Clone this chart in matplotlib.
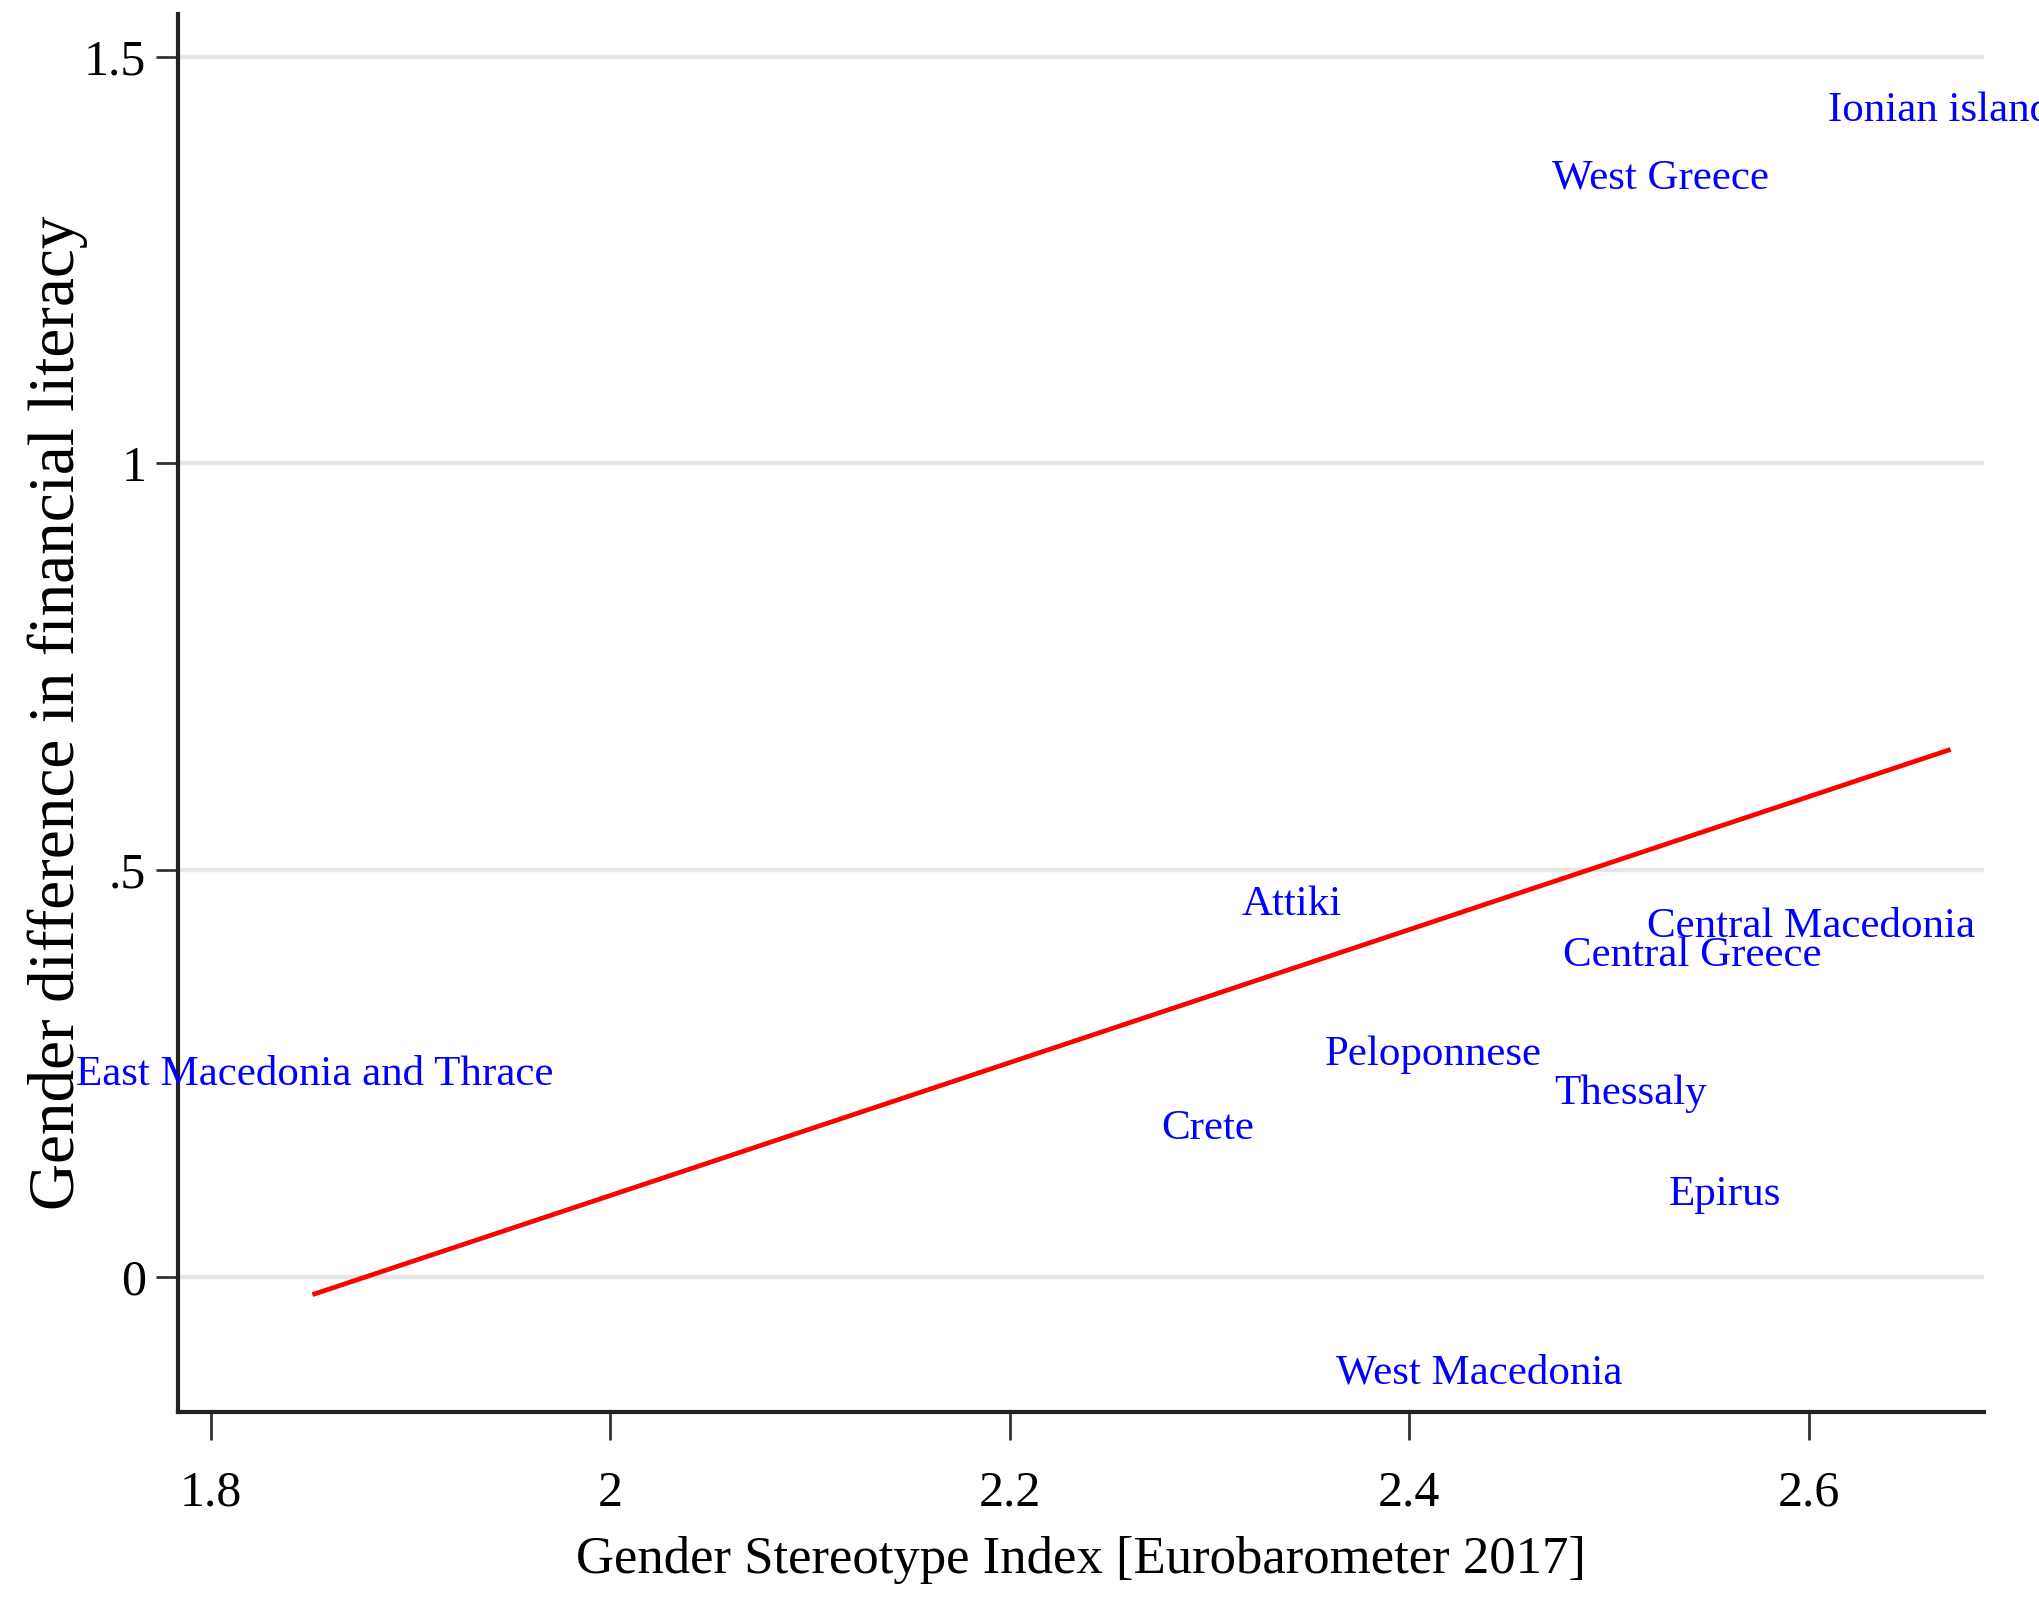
import numpy as np
import matplotlib.pyplot as plt

plt.rcParams["font.family"] = ["Liberation Serif", "DejaVu Serif"]

# regional values: stereotype index vs. gender gap in financial literacy
regions = [
    "East Macedonia and Thrace", "Crete", "Attiki", "Peloponnese",
    "West Macedonia", "West Greece", "Thessaly", "Central Greece",
    "Central Macedonia", "Epirus", "Ionian islands",
]
stereotype = [1.852, 2.299, 2.341, 2.412, 2.435, 2.526, 2.511, 2.542, 2.601, 2.558, 2.670]
fin_gap = [0.249, 0.182, 0.457, 0.273, -0.118, 1.350, 0.225, 0.395, 0.431, 0.101, 1.434]

x_ticks = [1.8, 2.0, 2.2, 2.4, 2.6]
x_ticklabels = ["1.8", "2", "2.2", "2.4", "2.6"]
y_ticks = [0, 0.5, 1, 1.5]
y_ticklabels = ["0", ".5", "1", "1.5"]


fig = plt.figure(figsize=(20.4, 15.99), dpi=100)
ax = fig.add_axes([0.0874, 0.117, 0.8853, 0.874])

# linear fit over the observed range
x = np.array(stereotype)
y = np.array(fin_gap)
slope, intercept = np.polyfit(x, y, 1)
xs = np.array([x.min(), x.max()])
ax.plot(xs, intercept + slope * xs, color="#ff0000", lw=3.4, zorder=3)

# region names as the markers
for name, xi, yi in zip(regions, stereotype, fin_gap):
    ax.text(xi, yi, name, color="#0000ff", fontsize=31, ha="center",
            va="center", clip_on=False, zorder=4)

ax.set_xlim(1.7837, 2.688)
ax.set_ylim(-0.166, 1.552)

for yt in y_ticks:
    ax.axhline(yt, color="#e6e6e6", lw=3.2, zorder=1)

ax.set_xticks(x_ticks)
ax.set_xticklabels(x_ticklabels)
ax.set_yticks(y_ticks)
ax.set_yticklabels(y_ticklabels)
ax.tick_params(axis="both", labelsize=36, width=2, color="#333333")
ax.tick_params(axis="x", length=20, pad=22)
ax.tick_params(axis="y", length=16, pad=7)

for side in ["top", "right"]:
    ax.spines[side].set_visible(False)
for side in ["left", "bottom"]:
    ax.spines[side].set_linewidth(3)
    ax.spines[side].set_color("#222222")

ax.set_xlabel("Gender Stereotype Index [Eurobarometer 2017]", fontsize=38, labelpad=14)
ax.set_ylabel("Gender difference in financial literacy", fontsize=47)
ax.yaxis.set_label_coords(-0.05, 0.5)

fig.savefig("out.png", dpi=100, facecolor="white")
